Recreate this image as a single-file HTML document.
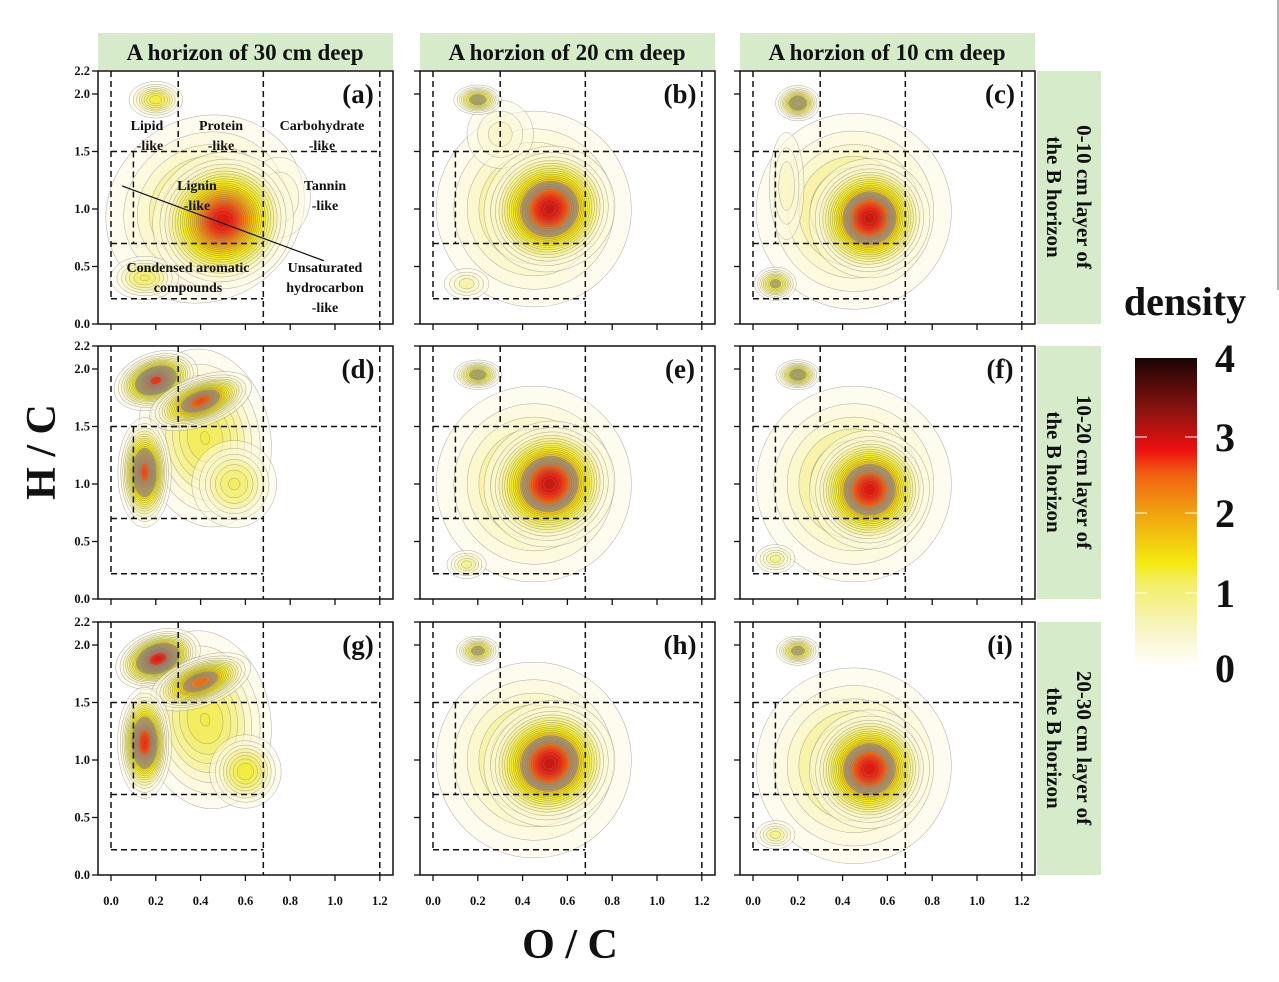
<!DOCTYPE html>
<html><head><meta charset="utf-8">
<style>
html,body{margin:0;padding:0;background:#fff;}
svg{display:block;}
text{font-family:"Liberation Serif",serif;font-weight:bold;}
</style></head>
<body>
<svg id="s" width="1279" height="982" viewBox="0 0 1279 982" xmlns="http://www.w3.org/2000/svg">
<defs>
<linearGradient id="cb" x1="0" y1="1" x2="0" y2="0">
<stop offset="0" stop-color="#fffef8"/>
<stop offset="0.12" stop-color="#f8f4c0"/>
<stop offset="0.27" stop-color="#f3ef60"/>
<stop offset="0.33" stop-color="#f4ea10"/>
<stop offset="0.5" stop-color="#f0a010"/>
<stop offset="0.62" stop-color="#f06010"/>
<stop offset="0.7" stop-color="#ee1010"/>
<stop offset="0.82" stop-color="#901410"/>
<stop offset="1" stop-color="#1a0404"/>
</linearGradient>
</defs>
</svg>
<script>
const S=document.getElementById('s');const NS='http://www.w3.org/2000/svg';
function el(t,a,p){const e=document.createElementNS(NS,t);for(const k in a)e.setAttribute(k,a[k]);(p||S).appendChild(e);return e;}
function tx(x,y,s,size,anchor,extra){const e=el('text',Object.assign({x:x,y:y,'font-size':size,'text-anchor':anchor||'middle',fill:'#111'},extra||{}));e.textContent=s;return e;}
const stops=[[0,[255,253,240]],[0.3,[251,247,208]],[0.8,[243,238,112]],[1.2,[242,234,16]],[1.8,[240,176,16]],[2.3,[240,112,16]],[2.8,[238,32,16]],[3.3,[160,16,16]],[4,[32,4,4]]];
function rgb(v){for(let i=1;i<stops.length;i++){if(v<=stops[i][0]){const a=stops[i-1],b=stops[i],t=(v-a[0])/(b[0]-a[0]);return a[1].map((c,j)=>Math.round(c+(b[1][j]-c)*t));}}return [32,4,4];}
function cmap(v,gray){let c=rgb(v);if(gray)c=c.map(x=>Math.round(x*0.35+140*0.65));return 'rgb('+c.join(',')+')';}
const lefts=[98,420,740],tops=[71,346,622],x0=[111,433,753];
const XS=224,YS=115;
const A=[[0.42,1.0,0.24,0.42,-30,0.9],[0.75,1.1,0.1,0.25,0,0.4],[0.2,1.95,0.06,0.08,0,1.1],[0.15,0.4,0.08,0.1,0,0.9],[0.5,0.9,0.13,0.24,-30,3.0]];
const B=[[0.45,1.0,0.23,0.45,-20,0.9],[0.3,1.65,0.1,0.2,0,0.45],[0.15,0.35,0.06,0.08,0,0.6],[0.2,1.95,0.05,0.06,0,1.5,[1.0,2.5]],[0.52,1.0,0.12,0.22,-25,3.1,[1.7,2.3]]];
const C=[[0.45,0.98,0.23,0.45,-20,0.9],[0.15,1.2,0.05,0.3,0,0.5],[0.2,1.92,0.045,0.07,0,1.7,[1.0,2.5]],[0.1,0.35,0.045,0.07,0,1.3,[1.0,2.5]],[0.52,0.92,0.11,0.21,-25,3.1,[1.7,2.3]]];
const D=[[0.42,1.4,0.15,0.4,-10,1.0],[0.2,1.9,0.08,0.1,-20,2.8,[1.3,2.6]],[0.4,1.72,0.1,0.09,-20,2.6,[1.6,2.2]],[0.15,1.1,0.05,0.2,0,2.6,[1.4,2.4]],[0.55,1.0,0.1,0.2,0,0.9]];
const E=[[0.45,1.0,0.23,0.45,-20,0.9],[0.15,0.3,0.05,0.07,0,0.7],[0.2,1.95,0.05,0.06,0,1.5,[1.0,2.5]],[0.52,1.0,0.12,0.22,-25,3.1,[1.7,2.3]]];
const F=[[0.45,1.0,0.23,0.45,-20,0.9],[0.1,0.35,0.05,0.07,0,0.7],[0.2,1.95,0.045,0.06,0,1.6,[1.0,2.5]],[0.52,0.95,0.11,0.21,-25,3.0,[1.7,2.3]]];
const G=[[0.42,1.35,0.15,0.4,-10,1.0],[0.21,1.88,0.08,0.1,-20,3.0,[1.3,2.6]],[0.4,1.68,0.1,0.09,-20,2.4,[1.6,2.1]],[0.15,1.15,0.05,0.2,0,2.8,[1.4,2.4]],[0.6,0.9,0.08,0.16,0,1.1]];
const H=[[0.45,1.0,0.23,0.45,-20,0.9],[0.2,1.95,0.045,0.06,0,1.4,[1.0,2.5]],[0.52,0.97,0.12,0.22,-25,3.1,[1.7,2.3]]];
const I=[[0.45,0.95,0.23,0.45,-20,0.9],[0.1,0.35,0.05,0.07,0,0.7],[0.2,1.95,0.045,0.06,0,1.4,[1.0,2.5]],[0.52,0.92,0.11,0.21,-25,3.0,[1.7,2.3]]];
const panels=[A,B,C,D,E,F,G,H,I],letters='abcdefghi';
panels.forEach((bl,k)=>{const r=Math.floor(k/3),c=k%3;const L=lefts[c],T=tops[r],ox=x0[c],oy=T+253;
 const X=v=>ox+v*XS,Y=v=>oy-v*YS;
 const cp=el('clipPath',{id:'c'+k},S.querySelector('defs'));el('rect',{x:L,y:T,width:295,height:253},cp);
 const g=el('g',{'clip-path':'url(#c'+k+')'});
 bl.forEach(b=>{const [cx,cy,sx,sy,ang,P,gr]=b;
  for(let lv=0.15;lv<P;lv+=0.12){const rr=Math.sqrt(2*Math.log(P/lv));const col=cmap(lv,gr&&lv>gr[0]&&lv<gr[1]);
   el('ellipse',{cx:X(cx),cy:Y(cy),rx:sx*XS*rr,ry:sy*YS*rr,transform:'rotate('+ang+' '+X(cx)+' '+Y(cy)+')',fill:col,'fill-opacity':lv<0.5?0.55:1,stroke:'#777','stroke-width':0.5,'stroke-opacity':0.6},g);}
 });
 const dl=(x1,y1,x2,y2)=>el('line',{x1:X(x1),y1:Y(y1),x2:X(x2),y2:Y(y2),stroke:'#111','stroke-width':1.5,'stroke-dasharray':'6,4'});
 dl(0,2.2,0,0.22);dl(0.3,2.2,0.3,1.5);dl(0.68,2.2,0.68,0);dl(1.2,2.2,1.2,0);dl(0,1.5,1.2,1.5);dl(0.1,1.5,0.1,0.7);dl(0,0.7,0.68,0.7);dl(0,0.22,0.68,0.22);
 el('rect',{x:L,y:T,width:295,height:253,fill:'none',stroke:'#111','stroke-width':1.5});
 for(let i=0;i<=6;i++){el('line',{x1:X(i*0.2),y1:oy,x2:X(i*0.2),y2:oy+6,stroke:'#111','stroke-width':1.3});}
 [0,0.5,1,1.5,2,2.2].forEach(v=>el('line',{x1:L-6,y1:Y(v),x2:L,y2:Y(v),stroke:'#111','stroke-width':1.3}));
 if(c==0)[0,0.5,1,1.5,2,2.2].forEach(v=>tx(L-8,Y(v)+4,v.toFixed(1),12.5,'end'));
 if(r==2)for(let i=0;i<=6;i++)tx(X(i*0.2),oy+30,(i*0.2).toFixed(1),12.5);
 tx(L+260,T+32,'('+letters[k]+')',27);
 if(k==0){el('line',{x1:X(0.05),y1:Y(1.2),x2:X(0.95),y2:Y(0.55),stroke:'#111','stroke-width':1.2});
  [['Lipid',147,130],['-like',150,150],['Protein',221,130],['-like',221,150],['Carbohydrate',322,130],['-like',322,150],['Lignin',197,190],['-like',197,210],['Tannin',325,190],['-like',325,210],['Condensed aromatic',188,272],['compounds',188,292],['Unsaturated',325,272],['hydrocarbon',325,292],['-like',325,312]].forEach(a=>tx(a[1],a[2],a[0],14));}
});
['A horizon of 30 cm deep','A horzion of 20 cm deep','A horzion of 10 cm deep'].forEach((s,i)=>{el('rect',{x:lefts[i],y:33,width:295,height:37,fill:'#d5ebca'});tx(lefts[i]+147,60,s,23);});
[['0-10 cm layer of','the  B horizon'],['10-20 cm layer of','the B horizon'],['20-30 cm layer of','the B horizon']].forEach((s,i)=>{const T=tops[i];el('rect',{x:1037,y:T,width:64,height:253,fill:'#d5ebca'});
 const cx=1069,cy=T+126;const t=tx(0,0,'',21,'middle',{transform:'translate('+cx+','+cy+') rotate(90)'});
 const a=el('tspan',{x:0,y:-8},t);a.textContent=s[0];const b=el('tspan',{x:0,y:22},t);b.textContent=s[1];});
el('rect',{x:1135,y:358,width:62,height:306,fill:'url(#cb)'});
[437,513,593].forEach(y=>{el('line',{x1:1135,y1:y,x2:1147,y2:y,stroke:'#fff','stroke-width':1});el('line',{x1:1185,y1:y,x2:1197,y2:y,stroke:'#fff','stroke-width':1});});
[['4',372],['3',451],['2',527],['1',607],['0',682]].forEach(a=>tx(1225,a[1],a[0],40));
tx(1185,315,'density',40);
tx(55,452,'H / C',42,'middle',{transform:'rotate(-90 55 452)'});
tx(570,958,'O / C',42);
el('line',{x1:1278,y1:0,x2:1278,y2:290,stroke:'#999','stroke-width':1.5});
</script>
</body></html>
